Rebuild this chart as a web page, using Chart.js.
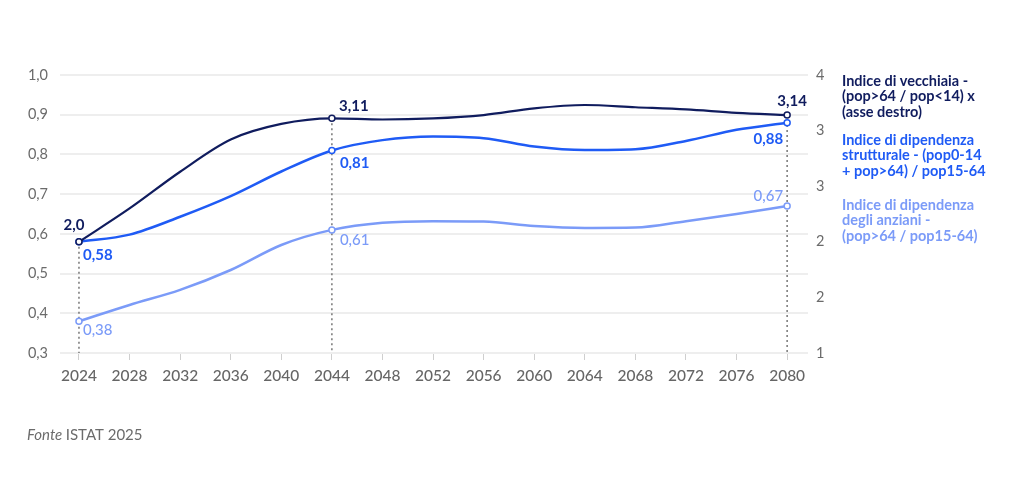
<!DOCTYPE html>
<html>
<head>
<meta charset="utf-8">
<script src="https://cdn.jsdelivr.net/npm/chart.js@4"></script>
<style>
  html, body { margin: 0; padding: 0; background: #fff; }
  #wrap { position: relative; width: 1024px; height: 498px; }
</style>
</head>
<body>
<div id="wrap"><canvas id="chart" width="1024" height="498"></canvas></div>
<script>
// Indici demografici - ISTAT 2025
const years = [2024, 2028, 2032, 2036, 2040, 2044, 2048, 2052, 2056, 2060, 2064, 2068, 2072, 2076, 2080];
const vecchiaia = [2.0, 2.30, 2.63, 2.92, 3.06, 3.11, 3.10, 3.11, 3.14, 3.20, 3.23, 3.21, 3.19, 3.16, 3.14];
const strutturale = [0.58, 0.598, 0.643, 0.695, 0.757, 0.81, 0.836, 0.845, 0.841, 0.82, 0.811, 0.813, 0.834, 0.862, 0.88];
const anziani = [0.38, 0.421, 0.459, 0.509, 0.572, 0.61, 0.628, 0.632, 0.631, 0.62, 0.615, 0.616, 0.632, 0.65, 0.67];
const leftTicks = [0.3, 0.4, 0.5, 0.6, 0.7, 0.8, 0.9, 1.0];
const rightTicks = [1, 1.5, 2, 2.5, 3, 3.5];
const markedYears = [2024, 2044, 2080];

const legendItems = [
  { color: "#101c5e", lines: ["Indice di vecchiaia -", "(pop>64 / pop<14) x", "(asse destro)"] },
  { color: "#1f5bf5", lines: ["Indice di dipendenza", "strutturale - (pop0-14", "+ pop>64) / pop15-64"] },
  { color: "#7b9bf8", lines: ["Indice di dipendenza", "degli anziani -", "(pop>64 / pop15-64)"] },
];

const fmt = (v, d) => v.toFixed(d).replace(".", ",");
const toXY = (arr) => arr.map((v, i) => ({ x: years[i], y: v }));
const radii = years.map((y) => (markedYears.includes(y) ? 3 : 0));

// labels on the marked points: [dataset, index, text, dx, dy, align, bold]
const pointLabels = [
  [0, 0, fmt(vecchiaia[0], 1), -5, -17, "center", true],
  [0, 5, fmt(vecchiaia[5], 2), 22, -12, "center", true],
  [0, 14, fmt(vecchiaia[14], 2), 5, -14, "center", true],
  [1, 0, fmt(strutturale[0], 2), 4, 13, "left", true],
  [1, 5, fmt(strutturale[5], 2), 8, 13, "left", true],
  [1, 14, fmt(strutturale[14], 2), -4, 16, "right", true],
  [2, 0, fmt(anziani[0], 2), 4, 9, "left", false],
  [2, 5, fmt(anziani[5], 2), 8, 10, "left", false],
  [2, 14, fmt(anziani[14], 2), -4, -10, "right", false],
];

const overlay = {
  id: "overlay",
  beforeDatasetsDraw(chart) {
    const { ctx, scales } = chart;
    const x = scales.x, yR = scales.yR;
    ctx.save();
    ctx.strokeStyle = "#777";
    ctx.lineWidth = 1.5;
    ctx.setLineDash([2, 3]);
    markedYears.forEach((yr) => {
      const i = years.indexOf(yr);
      const px = x.getPixelForValue(yr);
      ctx.beginPath();
      ctx.moveTo(px, yR.getPixelForValue(vecchiaia[i]));
      ctx.lineTo(px, chart.chartArea.bottom);
      ctx.stroke();
    });
    ctx.restore();
  },
  afterDatasetsDraw(chart) {
    const { ctx } = chart;
    ctx.save();
    ctx.textBaseline = "middle";
    pointLabels.forEach(([d, i, text, dx, dy, align, bold]) => {
      const el = chart.getDatasetMeta(d).data[i];
      ctx.fillStyle = legendItems[d].color;
      ctx.font = (bold ? "bold " : "500 ") + "15px Lato";
      ctx.textAlign = align;
      ctx.fillText(text, el.x + dx, el.y + dy);
    });
    // legend
    ctx.textAlign = "left";
    ctx.font = "bold 14.5px Lato";
    const starts = [81, 140, 205];
    legendItems.forEach((it, k) => {
      ctx.fillStyle = it.color;
      it.lines.forEach((ln, j) => ctx.fillText(ln, 842, starts[k] + j * 15.5));
    });
    // source
    ctx.fillStyle = "#6b6b6b";
    ctx.font = "italic 15px Lato";
    ctx.fillText("Fonte", 27, 435);
    const w = ctx.measureText("Fonte ").width;
    ctx.font = "15px Lato";
    ctx.fillText("ISTAT 2025", 27 + w, 435);
    ctx.restore();
  },
};

const makeSet = (label, arr, color, axis, width) => ({
  label,
  data: toXY(arr),
  yAxisID: axis,
  borderColor: color,
  backgroundColor: "#fff",
  pointBackgroundColor: "#fff",
  pointBorderColor: color,
  pointBorderWidth: 1.5,
  pointRadius: radii,
  pointHoverRadius: radii,
  borderWidth: width,
  cubicInterpolationMode: "monotone",
  fill: false,
});

new Chart(document.getElementById("chart").getContext("2d"), {
  type: "line",
  data: {
    datasets: [
      makeSet("Indice di vecchiaia", vecchiaia, legendItems[0].color, "yR", 2.2),
      makeSet("Indice di dipendenza strutturale", strutturale, legendItems[1].color, "y", 2.5),
      makeSet("Indice di dipendenza degli anziani", anziani, legendItems[2].color, "y", 2.5),
    ],
  },
  options: {
    responsive: false,
    animation: false,
    layout: { padding: { top: 75, bottom: 0, left: 0, right: 0 } },
    plugins: { legend: { display: false }, tooltip: { enabled: false } },
    scales: {
      x: {
        type: "linear",
        min: 2022.5,
        max: 2081.65,
        afterBuildTicks: (s) => { s.ticks = years.map((v) => ({ value: v })); },
        afterFit: (s) => { s.height = 145; },
        grid: { drawOnChartArea: false, drawTicks: true, tickLength: 7, color: "#cfcfcf" },
        border: { display: false },
        ticks: {
          padding: 7,
          color: "#666",
          font: { family: "Lato", size: 15.5, weight: "500" },
          maxRotation: 0,
          callback: (v) => String(v),
        },
      },
      y: {
        position: "left",
        min: 0.3,
        max: 1.0,
        afterBuildTicks: (s) => { s.ticks = leftTicks.map((v) => ({ value: v })); },
        afterFit: (s) => { s.width = 60; },
        grid: { color: "#eeeeee", lineWidth: 2, drawTicks: false },
        border: { display: false },
        ticks: {
          padding: 12,
          color: "#6b6b6b",
          font: { family: "Lato", size: 14.5 },
          callback: (v) => fmt(v, 1),
        },
      },
      yR: {
        position: "right",
        min: 1,
        max: 3.5,
        afterBuildTicks: (s) => { s.ticks = rightTicks.map((v) => ({ value: v })); },
        afterFit: (s) => { s.width = 216; },
        grid: { display: false, drawTicks: false },
        border: { display: false },
        ticks: {
          padding: 8,
          color: "#6b6b6b",
          font: { family: "Lato", size: 14.5 },
          callback: (v) => String(Math.round(v)),
        },
      },
    },
  },
  plugins: [overlay],
});
</script>
</body>
</html>
